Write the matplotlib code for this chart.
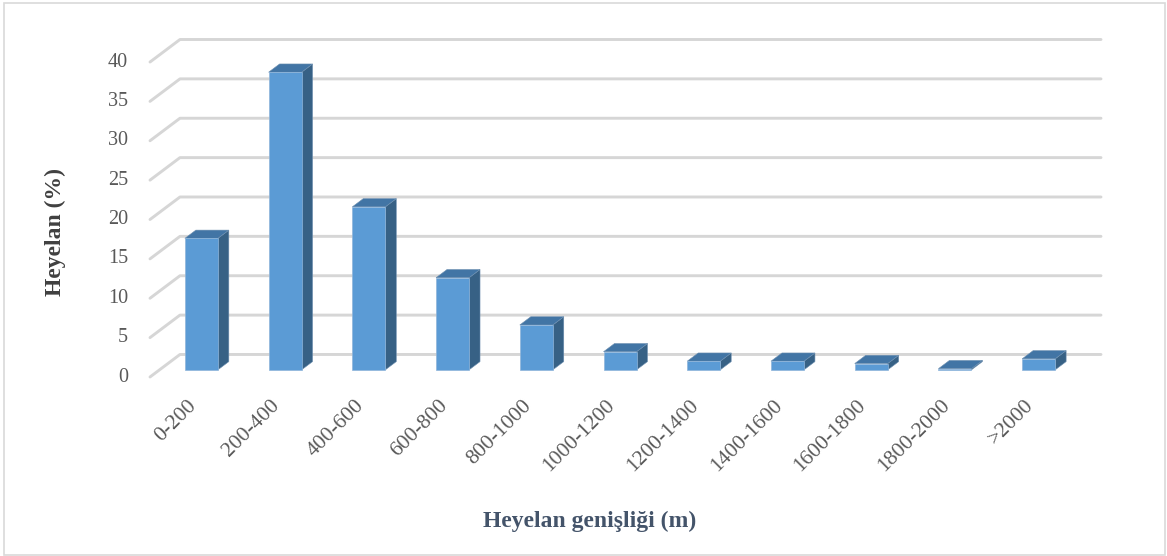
import matplotlib
matplotlib.use("Agg")
import matplotlib.pyplot as plt
from matplotlib.patches import Polygon, Rectangle

categories = ["0-200", "200-400", "400-600", "600-800", "800-1000", "1000-1200",
              "1200-1400", "1400-1600", "1600-1800", "1800-2000", ">2000"]
values = [16.7, 37.8, 20.7, 11.7, 5.7, 2.3, 1.1, 1.1, 0.8, 0.15, 1.4]
y_ticks = [0, 5, 10, 15, 20, 25, 30, 35, 40]
y_label = "Heyelan (%)"
x_label = "Heyelan genişliği (m)"

W, H = 1167, 556
fig = plt.figure(figsize=(W / 100, H / 100), dpi=100)
fig.patch.set_facecolor("white")

# 3D-like projection: depth offsets in data units
DX = 0.358   # horizontal depth offset (category units)
DY = 2.86    # vertical depth offset (value units)
n = len(categories)
ymax = y_ticks[-1]

left_px, right_px = 150, 1101
bottom_px, top_px = 377, 39.5
ax = fig.add_axes([left_px / W, (H - bottom_px) / H,
                   (right_px - left_px) / W, (bottom_px - top_px) / H])
ax.set_xlim(-0.5, n - 0.5 + DX)
ax.set_ylim(0, ymax + DY)
ax.axis("off")

grid_c = "#d6d6d6"
for v in y_ticks:
    ax.plot([-0.5, -0.5 + DX, n - 0.5 + DX], [v, v + DY, v + DY],
            color=grid_c, lw=2.1, solid_capstyle="round", solid_joinstyle="round",
            clip_on=False, zorder=1)
    ax.text(-0.5 - 0.26, v, str(v), ha="right", va="center",
            fontsize=14.5, family="Liberation Serif", color="#595959")

front_c = "#5b9bd5"
side_c = "#376185"
top_c = "#4275a5"
bw = 0.394
f0, f1 = 0.317, 0.683
for i, v in enumerate(values):
    x0 = i - bw / 2 + f0 * DX
    x1 = x0 + bw
    y0 = f0 * DY
    y1 = y0 + v
    ddx = (f1 - f0) * DX
    ddy = (f1 - f0) * DY
    ax.add_patch(Polygon([[x1, y0], [x1 + ddx, y0 + ddy], [x1 + ddx, y1 + ddy], [x1, y1]],
                         closed=True, facecolor=side_c, edgecolor="#6d8fb0", lw=0.4,
                         zorder=3, clip_on=False))
    ax.add_patch(Polygon([[x0, y1], [x1, y1], [x1 + ddx, y1 + ddy], [x0 + ddx, y1 + ddy]],
                         closed=True, facecolor=top_c, edgecolor="#6d8fb0", lw=0.4,
                         zorder=3, clip_on=False))
    ax.add_patch(Rectangle((x0, y0), bw, v, facecolor=front_c, edgecolor="#8fb5da",
                           lw=0.5, zorder=4, clip_on=False))

for i, c in enumerate(categories):
    ax.text(i + 0.02, -3.3, c, rotation=45, rotation_mode="anchor",
            ha="right", va="center", fontsize=15.5, family="Liberation Serif",
            color="#595959", clip_on=False)

fig.text(55 / W, 1 - 232 / H, y_label, rotation=90, ha="center", va="center",
         fontsize=17, fontweight="bold", family="Liberation Serif", color="#404040")
fig.text(590 / W, 1 - 521 / H, x_label, ha="center", va="center",
         fontsize=17, fontweight="bold", family="Liberation Serif", color="#44546a")

fig.add_artist(Rectangle((3.5 / W, 1.5 / H), (1165 - 3.5) / W, (553.5 - 1.5) / H,
                         transform=fig.transFigure, fill=False, edgecolor="#d9d9d9", lw=1.2))

fig.savefig("out.png", dpi=100, facecolor="white")
